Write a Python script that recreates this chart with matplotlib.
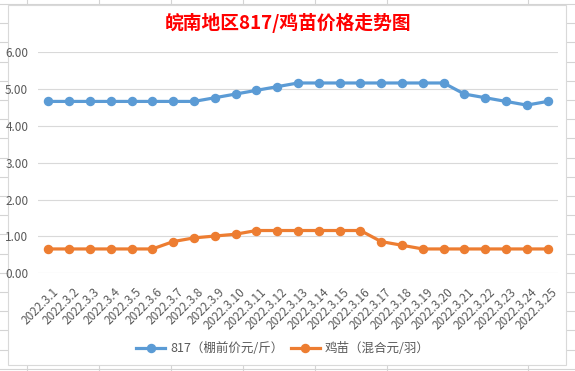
import matplotlib
matplotlib.use('Agg')
import matplotlib.pyplot as plt
from matplotlib.lines import Line2D
from matplotlib.patches import Rectangle
import matplotlib.transforms as mtransforms

plt.rcParams['font.family'] = ['Noto Sans CJK SC', 'DejaVu Sans']

## Data
dates = ['2022.3.%d' % d for d in range(1, 26)]
price_817 = [4.66, 4.66, 4.66, 4.66, 4.66, 4.66, 4.66, 4.66, 4.76, 4.86,
             4.96, 5.06, 5.16, 5.16, 5.16, 5.16, 5.16, 5.16, 5.16, 5.16,
             4.86, 4.76, 4.66, 4.56, 4.66]
price_chick = [0.66, 0.66, 0.66, 0.66, 0.66, 0.66, 0.86, 0.96, 1.01, 1.06,
               1.16, 1.16, 1.16, 1.16, 1.16, 1.16, 0.86, 0.76, 0.66, 0.66,
               0.66, 0.66, 0.66, 0.66, 0.66]
yticks = [0, 1, 2, 3, 4, 5, 6]
name_817 = '817（棚前价元/斤）'
name_chick = '鸡苗（混合元/羽）'
title = '皖南地区817/鸡苗价格走势图'

W, H = 575, 371
fig = plt.figure(figsize=(W / 100, H / 100), dpi=100)

## spreadsheet cell grid behind the chart
cell_c = '#d4d4d4'
for x in [27, 99, 171, 243, 315, 387, 528]:
    fig.add_artist(Line2D([x / W, x / W], [0, 1], color=cell_c, lw=0.8, zorder=0))
y = 4.0
while y < H:
    fig.add_artist(Line2D([0, 1], [1 - y / H, 1 - y / H], color=cell_c, lw=0.8, zorder=0))
    y += 19.2

## chart area
fig.add_artist(Rectangle((8 / W, 1 - 365 / H), (566 - 8) / W, (365 - 5) / H,
                         facecolor='white', edgecolor='#d9d9d9', lw=0.8, zorder=1))

ax = fig.add_axes([38 / W, 1 - 273.3 / H, (558 - 38) / W, (273.3 - 52) / H], zorder=2)
ax.set_facecolor('none')

x = list(range(len(dates)))
ax.plot(x, price_817, color='#5B9BD5', lw=2.3, marker='o', markersize=5.8, label=name_817, zorder=3)
ax.plot(x, price_chick, color='#ED7D31', lw=2.3, marker='o', markersize=5.8, label=name_chick, zorder=3)

ax.set_xlim(-0.5, len(dates) - 0.5)
ax.set_ylim(0, 6)
ax.set_yticks(yticks)
ax.set_yticklabels(['%.2f' % v for v in yticks])
ax.grid(axis='y', color='#d9d9d9', lw=0.8)
ax.set_axisbelow(True)
for s in ax.spines.values():
    s.set_visible(False)
ax.tick_params(length=0, colors='#595959', labelsize=8.5)
ax.tick_params(axis='y', pad=7)

ax.set_xticks(x)
ax.set_xticklabels(dates, rotation=45, ha='right', va='center', rotation_mode='anchor')
offset = mtransforms.ScaledTranslation(8 / 100, -12 / 100, fig.dpi_scale_trans)
for lab in ax.get_xticklabels():
    lab.set_transform(lab.get_transform() + offset)

fig.text(288 / W, 1 - 23 / H, title, color='#FF0000', fontsize=13.5, fontweight='bold',
         ha='center', va='center')

fig.legend(loc='center', bbox_to_anchor=(283 / W, 1 - 349 / H), ncol=2, frameon=False,
           fontsize=9, labelcolor='#595959', handlelength=2.3, handletextpad=0.4,
           columnspacing=0.6)

plt.savefig('out.png', dpi=100)
plt.close()
